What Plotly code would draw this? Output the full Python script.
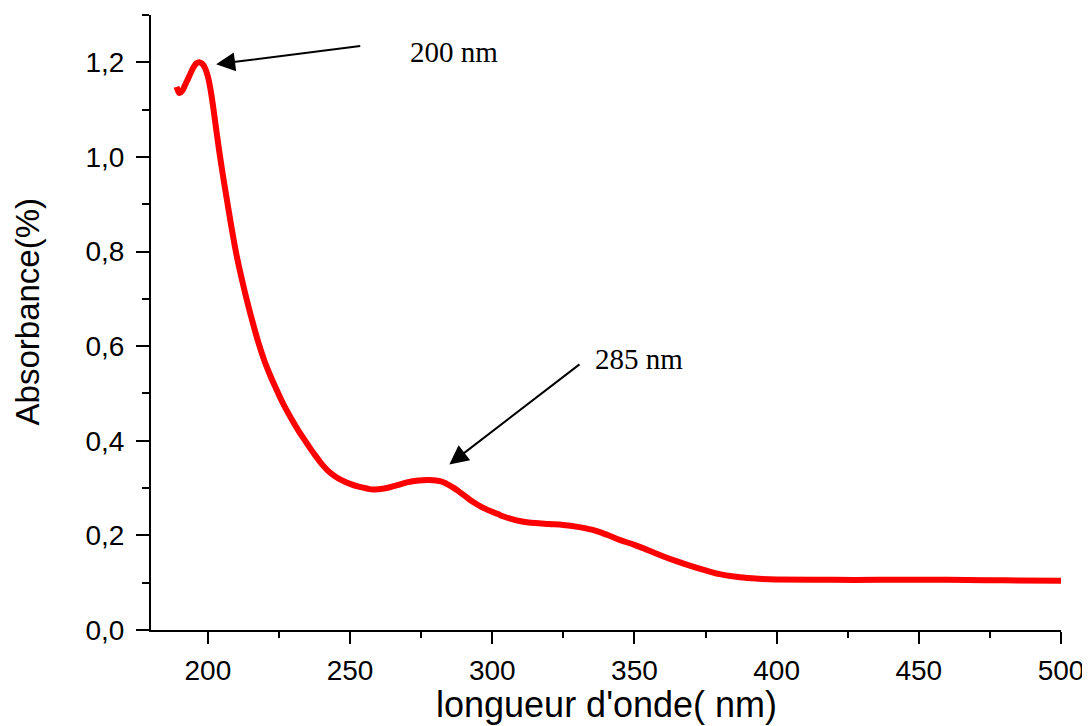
import plotly.graph_objects as go

wavelength = [189, 190, 191, 192, 193, 194, 195, 196, 197, 198, 199, 200, 201, 202, 203,
              204, 205, 206, 208, 210, 212, 214, 216, 218, 220, 222, 224, 226, 228, 230,
              232, 234, 236, 238, 240, 242, 244, 246, 248, 250, 253, 256, 258, 262, 266,
              270, 274, 278, 282, 284, 286, 288, 290, 292, 294, 296, 298, 300, 302, 304,
              306, 310, 315, 320, 325, 330, 335, 340, 345, 350, 355, 360, 365, 370, 375,
              380, 385, 390, 395, 400, 420, 440, 460, 480, 500]
absorbance = [1.148, 1.135, 1.140, 1.152, 1.165, 1.178, 1.190, 1.198, 1.200, 1.197, 1.188,
              1.170, 1.140, 1.100, 1.055, 1.012, 0.972, 0.935, 0.862, 0.795, 0.740, 0.690,
              0.645, 0.603, 0.567, 0.537, 0.510, 0.484, 0.461, 0.440, 0.420, 0.402, 0.384,
              0.367, 0.351, 0.338, 0.328, 0.320, 0.314, 0.309, 0.303, 0.299, 0.297, 0.299,
              0.305, 0.312, 0.316, 0.317, 0.314, 0.309, 0.302, 0.294, 0.285, 0.276, 0.268,
              0.261, 0.255, 0.250, 0.245, 0.240, 0.236, 0.230, 0.226, 0.224, 0.222, 0.218,
              0.212, 0.202, 0.190, 0.180, 0.168, 0.156, 0.145, 0.135, 0.126, 0.118, 0.113,
              0.110, 0.108, 0.107, 0.106, 0.106, 0.106, 0.105, 0.104]

x_ticks = [200, 250, 300, 350, 400, 450, 500]
y_ticks = [0.0, 0.2, 0.4, 0.6, 0.8, 1.0, 1.2]

peak_labels = ["200 nm", "285 nm"]
label_pos = [(270.4, 1.222), (335.3, 0.573)]
arrow_tips = [(202.9, 1.196), (284.9, 0.350)]
arrow_tails = [(254.1, 1.235), (331.2, 0.564)]

x_title = "longueur d'onde( nm)"
y_title = "Absorbance(%)"

fig = go.Figure()
fig.add_trace(go.Scatter(x=wavelength, y=absorbance, mode="lines",
                         line=dict(color="#FF0000", width=6, shape="spline", smoothing=1.0),
                         showlegend=False, hoverinfo="skip"))

for (tx, ty), (hx, hy) in zip(arrow_tails, arrow_tips):
    fig.add_annotation(x=hx, y=hy, ax=tx, ay=ty, axref="x", ayref="y", xref="x", yref="y",
                       text="", showarrow=True, arrowhead=2, arrowsize=1.9, arrowwidth=2,
                       arrowcolor="black", standoff=0, startstandoff=0)

for txt, (lx, ly) in zip(peak_labels, label_pos):
    fig.add_annotation(x=lx, y=ly, xref="x", yref="y", text=txt, showarrow=False,
                       xanchor="left", yanchor="middle",
                       font=dict(family="Liberation Serif", size=29, color="black"))

# axis titles placed as paper annotations
fig.add_annotation(x=0.5, y=-0.121, xref="paper", yref="paper", text=x_title,
                   showarrow=False, xanchor="center", yanchor="middle",
                   font=dict(family="Liberation Sans", size=36, color="black"))
fig.add_annotation(x=-0.1363, y=0.518, xref="paper", yref="paper", text=y_title,
                   showarrow=False, xanchor="center", yanchor="middle", textangle=-90,
                   font=dict(family="Liberation Sans", size=33, color="black"))

axis_common = dict(showgrid=False, zeroline=False, showline=True, linecolor="black",
                   linewidth=2, ticks="outside", tickcolor="black", tickwidth=2,
                   automargin=False,
                   tickfont=dict(family="Liberation Sans", size=28, color="black"))

fig.update_xaxes(range=[180, 500], tickvals=x_ticks, ticklen=12, ticklabelstandoff=2,
                 minor=dict(dtick=25, tick0=0, ticks="outside", ticklen=6,
                            tickwidth=2, tickcolor="black"),
                 **axis_common)
fig.update_yaxes(range=[0, 1.3], tickvals=y_ticks, tickformat=".1f", ticklen=13,
                 ticklabelstandoff=6,
                 minor=dict(dtick=0.1, tick0=0, ticks="outside", ticklen=7,
                            tickwidth=2, tickcolor="black"),
                 **axis_common)

# page body has an 8px margin, so the figure is 16px smaller than the window
fig.update_layout(width=1082, height=718, separators=", ",
                  margin=dict(l=143, r=29, t=7, b=96),
                  plot_bgcolor="white", paper_bgcolor="white")

fig.write_html("out.html")
